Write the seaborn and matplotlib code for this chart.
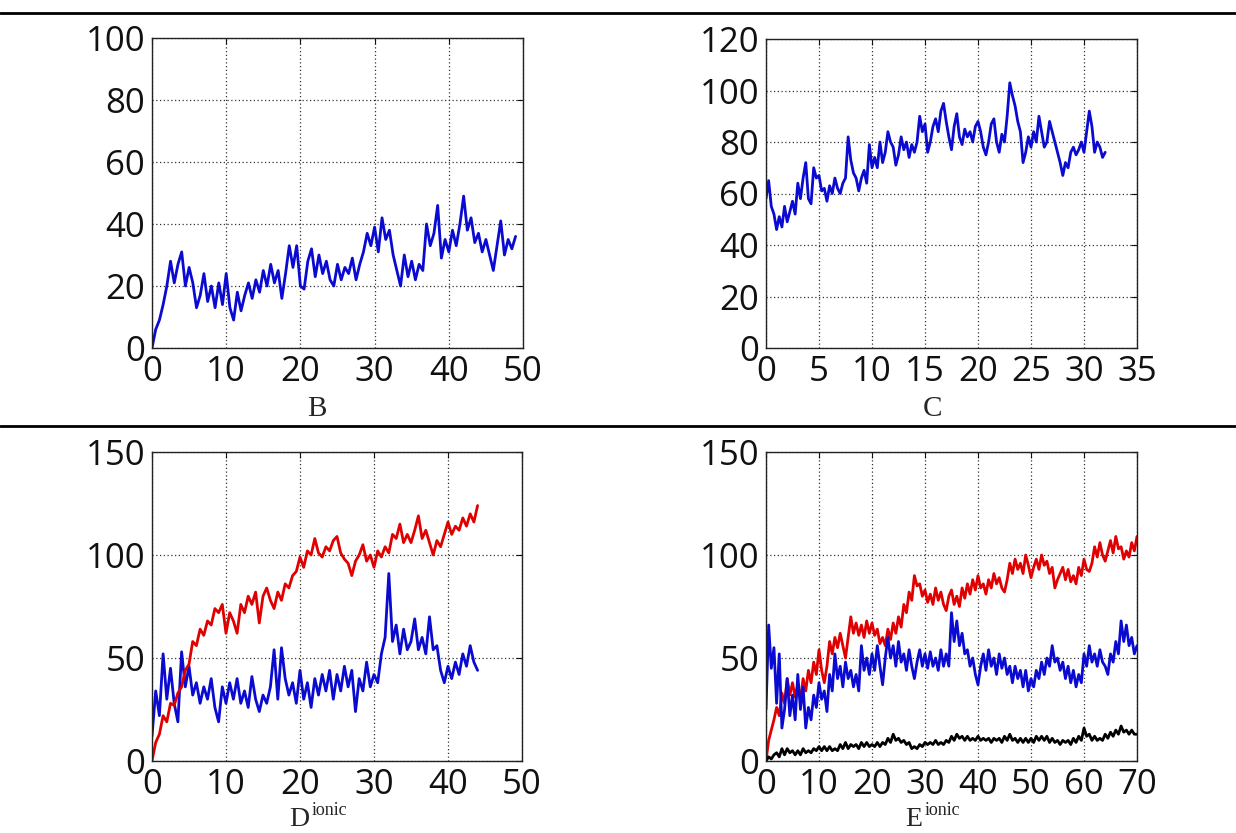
import numpy as np
import pandas as pd
import matplotlib
matplotlib.use("Agg")
import matplotlib.pyplot as plt
from matplotlib.lines import Line2D
import seaborn as sns

# -------------------------------
# Data
# -------------------------------
# panel B: one blue trace, sampled every 0.5
b_step = 0.5
b_blue = [0, 6, 9, 14, 20, 28, 21, 27, 31, 20, 26, 21, 13, 17, 24, 15, 20, 13, 21, 14,
          24, 13, 9, 18, 12, 17, 21, 16, 22, 18, 25, 20, 27, 21, 25, 16, 24, 33, 26, 33,
          20, 19, 28, 32, 23, 30, 24, 28, 22, 20, 27, 22, 26, 24, 29, 22, 27, 31, 37, 33,
          39, 31, 42, 35, 38, 30, 25, 20, 30, 23, 28, 22, 27, 25, 40, 33, 37, 46, 29, 35,
          31, 38, 33, 40, 49, 38, 42, 34, 37, 31, 35, 30, 25, 33, 41, 30, 35, 32, 36]

# panel C: one blue trace, sampled every 0.25
c_step = 0.25
c_blue = [58, 65, 55, 52, 46, 51, 47, 55, 49, 53, 57, 52, 64, 58, 66, 72, 58, 56, 70, 66,
          67, 61, 62, 57, 63, 60, 66, 62, 60, 64, 66, 82, 73, 68, 66, 61, 66, 69, 64, 79,
          70, 74, 70, 80, 72, 76, 84, 80, 78, 71, 75, 82, 77, 80, 74, 79, 76, 80, 90, 84,
          87, 76, 80, 86, 89, 84, 92, 95, 88, 82, 77, 86, 91, 82, 79, 85, 82, 84, 80, 86,
          88, 84, 78, 75, 80, 87, 89, 80, 76, 83, 80, 90, 103, 98, 94, 88, 84, 72, 76, 82,
          78, 84, 80, 90, 84, 78, 80, 88, 84, 80, 76, 72, 67, 72, 70, 76, 78, 75, 77, 80,
          76, 84, 92, 86, 76, 80, 78, 74, 76]

# panel D: red and blue traces, sampled every 0.5
d_step = 0.5
d_red = [0, 9, 13, 22, 19, 28, 27, 33, 36, 44, 47, 58, 56, 64, 61, 68, 66, 74, 72, 76,
         62, 72, 68, 62, 76, 72, 80, 76, 82, 67, 80, 84, 78, 74, 82, 78, 86, 84, 90, 92,
         99, 94, 102, 100, 108, 101, 99, 104, 102, 107, 109, 101, 98, 96, 90, 97, 100, 105, 97, 100,
         94, 102, 99, 104, 101, 110, 108, 115, 106, 110, 106, 112, 119, 108, 112, 106, 100, 107, 104, 110,
         116, 110, 114, 112, 118, 114, 120, 116, 124]
d_blue = [12, 34, 22, 52, 30, 45, 28, 19, 53, 36, 46, 32, 38, 28, 36, 30, 40, 26, 19, 36,
          28, 38, 30, 40, 28, 34, 26, 41, 30, 24, 32, 28, 36, 54, 30, 55, 40, 32, 38, 28,
          44, 30, 38, 26, 40, 32, 42, 34, 44, 30, 42, 34, 46, 36, 44, 24, 40, 34, 48, 36,
          42, 38, 52, 60, 91, 58, 66, 52, 64, 54, 58, 69, 54, 60, 52, 70, 54, 56, 44, 38,
          46, 40, 48, 42, 52, 46, 56, 48, 44]

# panel E: red, blue and black traces, sampled every 0.5
e_step = 0.5
e_red = [0, 10, 15, 20, 26, 22, 33, 28, 40, 32, 38, 31, 37, 30, 40, 34, 44, 38, 48, 42,
         54, 44, 38, 46, 58, 52, 60, 55, 62, 56, 50, 60, 70, 62, 67, 61, 66, 60, 68, 62,
         67, 61, 64, 57, 60, 56, 64, 59, 67, 62, 70, 65, 76, 72, 82, 78, 90, 85, 86, 80,
         83, 77, 81, 76, 84, 78, 82, 76, 73, 80, 83, 76, 80, 75, 84, 79, 86, 81, 88, 83,
         90, 84, 86, 81, 88, 84, 91, 86, 89, 84, 82, 88, 96, 91, 98, 93, 96, 91, 100, 95,
         89, 94, 98, 93, 100, 95, 97, 91, 94, 84, 88, 91, 94, 88, 93, 87, 90, 86, 94, 90,
         98, 93, 92, 96, 104, 99, 106, 100, 97, 102, 107, 101, 109, 103, 104, 98, 102, 99, 106, 102,
         109]
e_blue = [25, 66, 45, 55, 28, 52, 16, 25, 40, 22, 32, 20, 42, 25, 36, 16, 26, 20, 32, 26,
          38, 30, 34, 24, 42, 34, 52, 40, 46, 36, 48, 40, 44, 36, 42, 34, 56, 44, 50, 42,
          52, 44, 56, 46, 37, 50, 60, 50, 56, 46, 58, 48, 52, 44, 54, 46, 40, 48, 54, 46,
          52, 45, 53, 46, 50, 44, 54, 46, 52, 46, 72, 58, 68, 56, 62, 52, 54, 46, 50, 42,
          37, 46, 52, 44, 54, 46, 50, 42, 52, 45, 50, 42, 46, 38, 46, 40, 44, 36, 44, 34,
          40, 36, 44, 40, 48, 42, 50, 46, 56, 48, 50, 44, 48, 40, 46, 38, 44, 36, 42, 38,
          52, 46, 56, 48, 52, 46, 54, 48, 46, 42, 52, 48, 58, 52, 68, 58, 66, 56, 60, 52,
          56]
e_black = [0, 2, 1, 3, 4, 2, 6, 3, 6, 4, 5, 3, 5, 3, 6, 4, 5, 4, 6, 5,
           7, 5, 7, 5, 7, 5, 6, 5, 8, 6, 9, 6, 8, 7, 8, 6, 9, 7, 9, 7,
           8, 7, 9, 7, 9, 8, 11, 9, 13, 10, 11, 9, 10, 8, 9, 6, 7, 6, 8, 7,
           9, 8, 9, 8, 10, 8, 9, 8, 10, 9, 12, 10, 13, 11, 12, 10, 12, 10, 11, 10,
           12, 10, 11, 10, 11, 9, 11, 10, 11, 9, 12, 10, 13, 10, 11, 9, 11, 9, 11, 9,
           11, 9, 12, 10, 12, 10, 12, 9, 11, 9, 10, 8, 10, 9, 10, 8, 11, 9, 12, 10,
           16, 12, 13, 10, 12, 10, 11, 10, 13, 11, 14, 12, 15, 13, 17, 14, 15, 13, 15, 13,
           13]

panel_labels = ["B", "C", "D", "E"]

BLUE = "#0a0ad0"
RED = "#e00000"
BLACK = "#000000"


def frame(vals, step):
    return pd.DataFrame({"t": [i * step for i in range(len(vals))], "v": vals})


# -------------------------------
# Figure
# -------------------------------
sns.set_style("white")
plt.rcParams["font.family"] = ["Open Sans", "DejaVu Sans"]

fig = plt.figure(figsize=(12.36, 8.33), dpi=100)

W, H = 1236, 833


def make_ax(left, top, right, bottom):
    return fig.add_axes([left / W, 1 - bottom / H, (right - left) / W, (bottom - top) / H])


axB = make_ax(152, 38, 523, 348)
axC = make_ax(766, 39, 1137, 348)
axD = make_ax(152, 452, 522, 761)
axE = make_ax(766, 452, 1137, 761)

lw = 2.0
sns.lineplot(data=frame(b_blue, b_step), x="t", y="v", ax=axB, color=BLUE, lw=lw,
             estimator=None, sort=False)
sns.lineplot(data=frame(c_blue, c_step), x="t", y="v", ax=axC, color=BLUE, lw=lw,
             estimator=None, sort=False)
sns.lineplot(data=frame(d_blue, d_step), x="t", y="v", ax=axD, color=BLUE, lw=lw,
             estimator=None, sort=False)
sns.lineplot(data=frame(d_red, d_step), x="t", y="v", ax=axD, color=RED, lw=lw,
             estimator=None, sort=False)
sns.lineplot(data=frame(e_red, e_step), x="t", y="v", ax=axE, color=RED, lw=lw,
             estimator=None, sort=False)
sns.lineplot(data=frame(e_blue, e_step), x="t", y="v", ax=axE, color=BLUE, lw=lw,
             estimator=None, sort=False)
sns.lineplot(data=frame(e_black, e_step), x="t", y="v", ax=axE, color=BLACK, lw=lw,
             estimator=None, sort=False)

limits = {
    axB: ((0, 50), np.arange(0, 51, 10), (0, 100), np.arange(0, 101, 20)),
    axC: ((0, 35), np.arange(0, 36, 5), (0, 120), np.arange(0, 121, 20)),
    axD: ((0, 50), np.arange(0, 51, 10), (0, 150), np.arange(0, 151, 50)),
    axE: ((0, 70), np.arange(0, 71, 10), (0, 150), np.arange(0, 151, 50)),
}

for ax, (xl, xt, yl, yt) in limits.items():
    ax.set_xlim(*xl)
    ax.set_ylim(*yl)
    ax.set_xticks(xt)
    ax.set_yticks(yt)
    ax.set_xlabel("")
    ax.set_ylabel("")
    ax.grid(True, color="#333333", linestyle=(0, (1, 2)), linewidth=0.9)
    ax.set_axisbelow(True)
    for s in ax.spines.values():
        s.set_color("#222222")
        s.set_linewidth(1.0)
    ax.tick_params(axis="both", direction="in", length=4, width=0.8,
                   top=True, right=True, labelsize=25, pad=5, colors="#111111")

# panel captions
serif = ["Liberation Serif", "DejaVu Serif"]
fig.text(317 / W, 1 - 409 / H, panel_labels[0], ha="center", va="center", fontsize=21, family=serif)
fig.text(932 / W, 1 - 409 / H, panel_labels[1], ha="center", va="center", fontsize=21, family=serif)
fig.text(309 / W, 1 - 826 / H, panel_labels[2], ha="right", va="baseline", fontsize=20, family=serif)
fig.text(312 / W, 1 - 815 / H, "ionic", ha="left", va="baseline", fontsize=13, family=serif)
fig.text(922 / W, 1 - 826 / H, panel_labels[3], ha="right", va="baseline", fontsize=20, family=serif)
fig.text(925 / W, 1 - 815 / H, "ionic", ha="left", va="baseline", fontsize=13, family=serif)

# horizontal rules
for yy in (13, 426):
    fig.add_artist(Line2D([0, 1], [1 - yy / H, 1 - yy / H], transform=fig.transFigure,
                          color="black", lw=2))

fig.savefig("out.png", dpi=100)
